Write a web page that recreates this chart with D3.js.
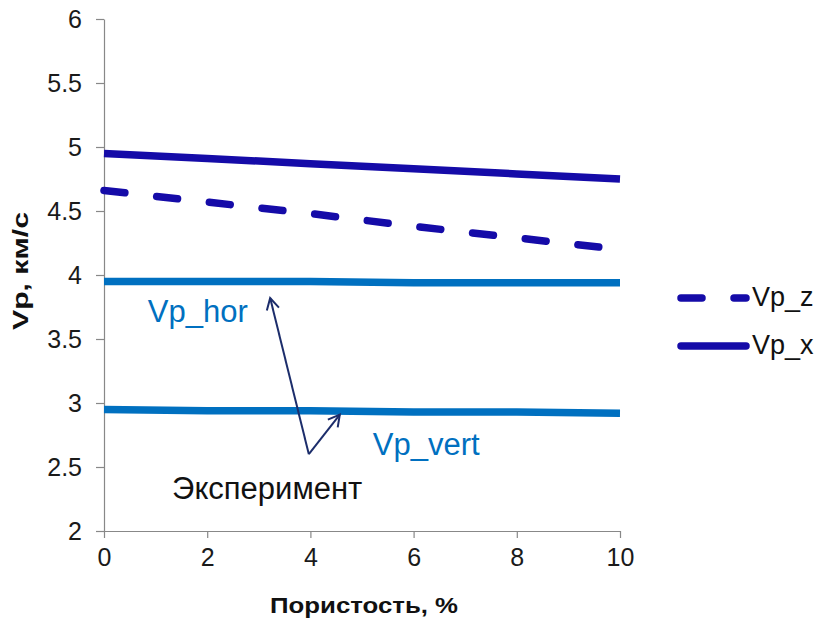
<!DOCTYPE html>
<html>
<head>
<meta charset="utf-8">
<script src="https://cdn.jsdelivr.net/npm/d3@7"></script>
<style>
  html, body { margin: 0; padding: 0; background: #fff; }
  svg { display: block; font-family: "Liberation Sans", Arial, sans-serif; }
</style>
</head>
<body>
<svg id="chart" width="819" height="622"></svg>
<script>
// Porosity (%) sample points
const porosity = [0, 2, 4, 6, 8, 10];

// P-wave velocities, km/s
const vpZ    = [4.66, 4.57, 4.48, 4.38, 4.29, 4.20];
const vpX    = [4.95, 4.91, 4.87, 4.83, 4.79, 4.75];
const vpHor  = [3.95, 3.95, 3.95, 3.94, 3.94, 3.94];
const vpVert = [2.95, 2.94, 2.94, 2.93, 2.93, 2.92];

// Axis ticks
const xTicks = [0, 2, 4, 6, 8, 10];
const yTicks = [2, 2.5, 3, 3.5, 4, 4.5, 5, 5.5, 6];

const legendNames = ["Vp_z", "Vp_x"];

const DARK = "#150ba8";
const LIGHT = "#0070c0";
const ARROW = "#1c2d6b";

const svg = d3.select("#chart");
const margin = { left: 104, right: 199, top: 19, bottom: 91 };
const W = 819, H = 622;

const x = d3.scaleLinear().domain([0, 10]).range([margin.left, W - margin.right]);
const y = d3.scaleLinear().domain([2, 6]).range([H - margin.bottom, margin.top]);

// Axes
const xAxis = svg.append("g")
  .attr("transform", `translate(0,${y(2)})`)
  .call(d3.axisBottom(x).tickValues(xTicks).tickSize(7).tickSizeOuter(0).tickPadding(10));
const yAxis = svg.append("g")
  .attr("transform", `translate(${x(0)},0)`)
  .call(d3.axisLeft(y).tickValues(yTicks).tickSize(8).tickSizeOuter(0).tickPadding(14)
    .tickFormat(d => String(d)));

[xAxis, yAxis].forEach(g => {
  g.attr("font-size", null).attr("font-family", null);
  g.select(".domain").attr("stroke", "#888").attr("stroke-width", 1.2);
  g.selectAll(".tick line").attr("stroke", "#888").attr("stroke-width", 1.2);
  g.selectAll(".tick text")
    .attr("fill", "#1a1a1a")
    .style("font-size", "25px")
    .style("font-family", "'Liberation Sans', Arial, sans-serif");
});
xAxis.selectAll(".tick text").attr("dy", "0.72em");

// Axis titles
svg.append("text")
  .attr("x", 364)
  .attr("y", 613)
  .attr("text-anchor", "middle")
  .attr("textLength", 188)
  .attr("lengthAdjust", "spacingAndGlyphs")
  .style("font-size", "22px")
  .style("font-weight", "bold")
  .attr("fill", "#111")
  .text("Пористость, %");

svg.append("text")
  .attr("transform", `translate(28,271) rotate(-90)`)
  .attr("text-anchor", "middle")
  .attr("textLength", 118)
  .attr("lengthAdjust", "spacingAndGlyphs")
  .style("font-size", "22px")
  .style("font-weight", "bold")
  .attr("fill", "#111")
  .text("Vp, км/с");

// Series lines
const line = d3.line().x((d, i) => x(porosity[i])).y(d => y(d));

const series = [
  { values: vpHor,  color: LIGHT, dash: null, cap: "butt" },
  { values: vpVert, color: LIGHT, dash: null, cap: "butt" },
  { values: vpX,    color: DARK,  dash: null, cap: "butt" },
  { values: vpZ,    color: DARK,  dash: "21,32", cap: "round" }
];

series.forEach(s => {
  svg.append("path")
    .datum(s.values)
    .attr("d", line)
    .attr("fill", "none")
    .attr("stroke", s.color)
    .attr("stroke-width", 7.5)
    .attr("stroke-linecap", s.cap)
    .attr("stroke-dasharray", s.dash);
});

// Legend
const legend = svg.append("g");
const legendRows = [
  { name: legendNames[0], dash: "21,32", y: 298 },
  { name: legendNames[1], dash: null, y: 346 }
];
legendRows.forEach(r => {
  legend.append("line")
    .attr("x1", 681).attr("x2", 746)
    .attr("y1", r.y).attr("y2", r.y)
    .attr("stroke", DARK)
    .attr("stroke-width", 7.5)
    .attr("stroke-linecap", "round")
    .attr("stroke-dasharray", r.dash);
  legend.append("text")
    .attr("x", 752)
    .attr("y", r.y + 8)
    .style("font-size", "27px")
    .attr("fill", "#111")
    .text(r.name);
});

// Annotations
svg.append("text")
  .attr("x", x(0.85)).attr("y", y(3.63))
  .style("font-size", "31px")
  .attr("fill", LIGHT)
  .text("Vp_hor");

svg.append("text")
  .attr("x", x(5.21)).attr("y", y(2.59))
  .style("font-size", "31px")
  .attr("fill", LIGHT)
  .text("Vp_vert");

svg.append("text")
  .attr("x", x(1.32)).attr("y", y(2.25))
  .style("font-size", "31px")
  .attr("fill", "#111")
  .text("Эксперимент");

// Arrows from a common origin to the two measured lines
const origin = [3.97, 2.60];
const tips = [[3.22, 3.82], [4.57, 2.91]];

function arrow(from, to) {
  const x0 = x(from[0]), y0 = y(from[1]);
  const x1 = x(to[0]), y1 = y(to[1]);
  const ang = Math.atan2(y1 - y0, x1 - x0);
  const len = 13, spread = 0.5;
  svg.append("line")
    .attr("x1", x0).attr("y1", y0).attr("x2", x1).attr("y2", y1)
    .attr("stroke", ARROW).attr("stroke-width", 2);
  const p = d3.path();
  p.moveTo(x1 - len * Math.cos(ang - spread), y1 - len * Math.sin(ang - spread));
  p.lineTo(x1, y1);
  p.lineTo(x1 - len * Math.cos(ang + spread), y1 - len * Math.sin(ang + spread));
  svg.append("path")
    .attr("d", p.toString())
    .attr("fill", "none")
    .attr("stroke", ARROW)
    .attr("stroke-width", 2)
    .attr("stroke-linejoin", "miter");
}
tips.forEach(t => arrow(origin, t));
</script>
</body>
</html>
